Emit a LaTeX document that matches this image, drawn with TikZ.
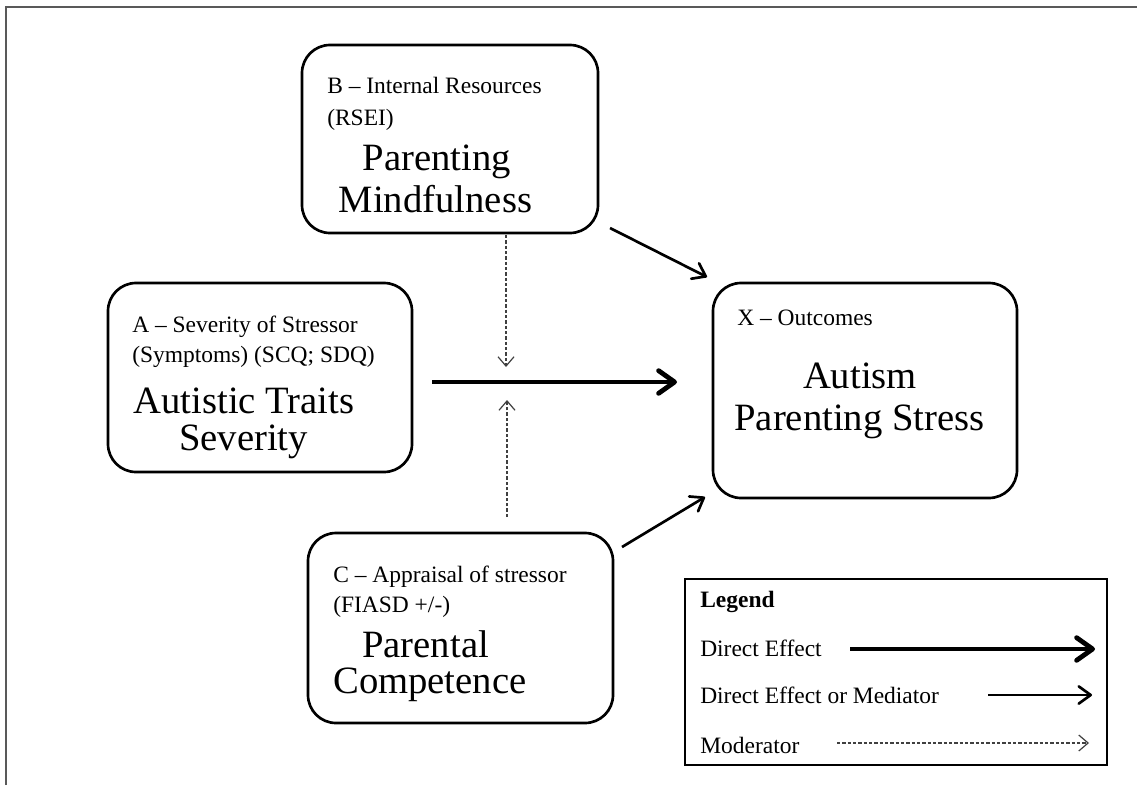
\documentclass[tikz,border=0pt]{standalone}
\usepackage{fontspec}
\setmainfont{Liberation Serif}
\usetikzlibrary{arrows.meta}

\def\smallsize{\fontsize{17.6pt}{22pt}\selectfont}
\def\bigsize{\fontsize{29pt}{31.5pt}\selectfont}

\tikzset{
  box/.style={draw, line width=2pt, rounded corners=21pt, inner sep=0pt, outer sep=0pt},
  legendbox/.style={draw, line width=2.2pt, inner sep=0pt, outer sep=0pt},
  label/.style={anchor=base west, inner sep=0pt, font=\smallsize},
  title/.style={anchor=base, inner sep=0pt, font=\bigsize},
  direct/.style={line width=3.6pt, -{Straight Barb[length=12pt,width=17pt,round]}},
  mediator/.style={line width=2pt, -{Straight Barb[length=9pt,width=13pt,round]}},
  moderator/.style={line width=0.9pt, black!75, dash pattern=on 2.5pt off 1.5pt,
    -{Straight Barb[length=7pt,width=12pt]}}
}

\begin{document}
\begin{tikzpicture}[x=0.75pt, y=-0.75pt]
      \useasboundingbox (0,0) rectangle (1137,785);
      \draw[black!65, line width=1.5pt] (6,785) -- (6,7) -- (1137,7);

      % boxes
      \node[box, minimum width=222pt, minimum height=141pt] (B) at (450,139) {};
      \node[box, minimum width=228pt, minimum height=141.75pt] (A) at (260,377.5) {};
      \node[box, minimum width=228pt, minimum height=161.25pt] (X) at (865,390.5) {};
      \node[box, minimum width=228.75pt, minimum height=142.5pt] (C) at (460.5,628) {};
      \node[legendbox, minimum width=316.5pt, minimum height=139.5pt] (L) at (896,672) {};

      % texts
      \node[label] (Bl1) at (327,93) {B -- Internal Resources};
      \node[label] (Bl2) at (327,125) {(RSEI)};
      \node[title] (Bt1) at (437,170) {Parenting};
      \node[title] (Bt2) at (435.5,212) {Mindfulness};
      \node[label] (Al1) at (132,332) {A -- Severity of Stressor};
      \node[label] (Al2) at (132,362) {(Symptoms) (SCQ; SDQ)};
      \node[title] (At1) at (244,413) {Autistic Traits};
      \node[title] (At2) at (243.5,450) {Severity};
      \node[label] (Xl1) at (737,325) {X -- Outcomes};
      \node[title] (Xt1) at (860,388) {Autism};
      \node[title] (Xt2) at (859.5,430) {Parenting Stress};
      \node[label] (Cl1) at (333,582) {C -- Appraisal of stressor};
      \node[label] (Cl2) at (333,612) {(FIASD +/-)};
      \node[title, anchor=base west] (Ct1) at (362,657) {Parental};
      \node[title, anchor=base west] (Ct2) at (333,693) {Competence};

      % connectors
      \coordinate (mainS) at (432,382);
      \coordinate (mainE) at (677,382);
      \coordinate (modB) at (506,235);
      \coordinate (modBE) at (506,367);
      \coordinate (modC) at (507,517);
      \coordinate (modCE) at (507,400);
      \coordinate (BX1) at (610,228);
      \coordinate (BX2) at (707,277);
      \coordinate (CX1) at (622,547);
      \coordinate (CX2) at (705,497);
      \draw[direct] (mainS) -- (mainE);
      \draw[moderator] (modB) -- (modBE);
      \draw[moderator] (modC) -- (modCE);
      \draw[mediator] (BX1) -- (BX2);
      \draw[mediator] (CX1) -- (CX2);

      % legend
      \node[label, font=\smallsize\bfseries] (Lt) at (700,607) {Legend};
      \node[label] (L1) at (700,656) {Direct Effect};
      \node[label] (L2) at (700,703) {Direct Effect or Mediator};
      \node[label] (L3) at (700,753) {Moderator};
      \coordinate (L1s) at (850,649);
      \coordinate (L1e) at (1095,649);
      \coordinate (L2s) at (988,695);
      \coordinate (L2e) at (1092,695);
      \coordinate (L3s) at (837,743);
      \coordinate (L3e) at (1089,743);
      \draw[direct] (L1s) -- (L1e);
      \draw[mediator] (L2s) -- (L2e);
      \draw[moderator] (L3s) -- (L3e);
    \end{tikzpicture}
\end{document}
